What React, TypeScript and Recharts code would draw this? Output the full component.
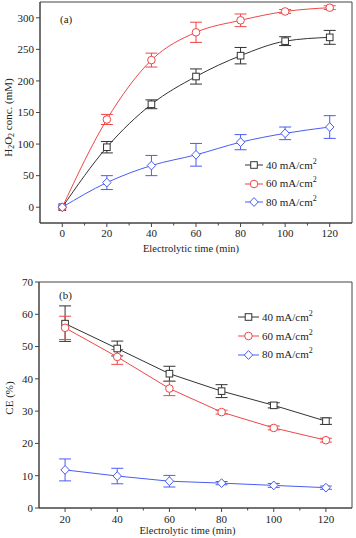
import React from "react";
import {
  ComposedChart,
  Line,
  XAxis,
  YAxis,
  ErrorBar,
  ReferenceArea,
  Legend,
  Customized,
} from "recharts";

// (a) H2O2 concentration vs time
const timesA = [0, 20, 40, 60, 80, 100, 120];
const conc40 = [0, 95, 163, 207, 240, 263, 269];
const conc40Err = [0, 9, 7, 12, 13, 7, 11];
const conc60 = [0, 139, 233, 277, 296, 310, 316];
const conc60Err = [0, 8, 11, 16, 10, 3, 3];
const conc80 = [0, 39, 66, 83, 103, 117, 127];
const conc80Err = [0, 11, 16, 18, 12, 10, 18];

// (b) current efficiency vs time
const timesB = [20, 40, 60, 80, 100, 120];
const ce40 = [57.1, 49.4, 41.6, 36.2, 31.8, 26.9];
const ce40Err = [5.5, 2.3, 2.3, 2.0, 0.8, 1.0];
const ce60 = [55.8, 46.8, 37.0, 29.7, 24.8, 21.0];
const ce60Err = [3.6, 2.3, 2.2, 0.6, 0.6, 0.6];
const ce80 = [11.8, 9.9, 8.3, 7.7, 7.0, 6.3];
const ce80Err = [3.4, 2.4, 1.8, 0.5, 0.6, 0.5];

const xMajorA = [0, 20, 40, 60, 80, 100, 120];
const xMinorA = [10, 30, 50, 70, 90, 110];
const yTicksA = [0, 50, 100, 150, 200, 250, 300];
const xMajorB = [20, 40, 60, 80, 100, 120];
const xMinorB = [30, 50, 70, 90, 110];
const yTicksB = [0, 10, 20, 30, 40, 50, 60, 70];

const seriesNames = ["40 mA/cm", "60 mA/cm", "80 mA/cm"];

const dataA = timesA.map((t, i) => ({
  t,
  c40: conc40[i],
  e40: conc40Err[i],
  c60: conc60[i],
  e60: conc60Err[i],
  c80: conc80[i],
  e80: conc80Err[i],
}));

const dataB = timesB.map((t, i) => ({
  t,
  c40: ce40[i],
  e40: ce40Err[i],
  c60: ce60[i],
  e60: ce60Err[i],
  c80: ce80[i],
  e80: ce80Err[i],
}));

const FONT = "Liberation Serif";
const fontStyle = { fontFamily: FONT };
const AXIS = "#444";
const BLACK = "#333";
const RED = "#f04646";
const BLUE = "#4a5cf4";
const colors = [BLACK, RED, BLUE];

const Marker = ({ kind, cx, cy, color }) => {
  if (kind === 0)
    return <rect x={cx - 3.3} y={cy - 3.3} width={6.6} height={6.6} fill="#fff" stroke={color} strokeWidth={1} />;
  if (kind === 1) return <circle cx={cx} cy={cy} r={3.8} fill="#fff" stroke={color} strokeWidth={1} />;
  return (
    <polygon
      points={`${cx},${cy - 4.4} ${cx + 4.2},${cy} ${cx},${cy + 4.4} ${cx - 4.2},${cy}`}
      fill="#fff"
      stroke={color}
      strokeWidth={1}
    />
  );
};

const dotFor = (kind) => (p) => (
  <Marker key={`d${kind}-${p.index}`} kind={kind} cx={p.cx} cy={p.cy} color={colors[kind]} />
);

const makeXTick = (majors, labelDy) => (p) => {
  const { x, y, payload } = p;
  const major = majors.includes(payload.value);
  return (
    <g>
      <line x1={x} x2={x} y1={y} y2={y + (major ? 4 : 2.5)} stroke={AXIS} />
      {major && (
        <text x={x} y={y + labelDy} textAnchor="middle" style={fontStyle} fontSize={11} fill="#222">
          {payload.value}
        </text>
      )}
    </g>
  );
};

const YTick = (p) => {
  const { x, y, payload } = p;
  return (
    <g>
      <line x1={x} x2={x - 4} y1={y} y2={y} stroke={AXIS} />
      <text x={x - 6} y={y + 3.8} textAnchor="end" style={fontStyle} fontSize={11} fill="#222">
        {payload.value}
      </text>
    </g>
  );
};

const LegendBox = ({ rowH, lineW }) => (
  <div style={{ fontFamily: FONT, fontSize: 11, color: "#222" }}>
    {seriesNames.map((n, i) => (
      <div key={n} style={{ display: "flex", alignItems: "center", height: rowH }}>
        <svg width={lineW} height={12}>
          <line x1={0} x2={lineW} y1={6} y2={6} stroke={colors[i]} />
          <Marker kind={i} cx={lineW / 2} cy={6} color={colors[i]} />
        </svg>
        <span style={{ marginLeft: 3, lineHeight: 1, whiteSpace: "nowrap" }}>
          {n}
          <span style={{ fontSize: 8, position: "relative", top: -5 }}>2</span>
        </span>
      </div>
    ))}
  </div>
);

const xTitle = (dx, dy) => (p) => {
  const vb = p.viewBox;
  return (
    <text x={vb.x + vb.width / 2 + dx} y={vb.y + dy} textAnchor="middle" style={fontStyle} fontSize={10.5} fill="#222">
      Electrolytic time (min)
    </text>
  );
};

const YTitleA = (p) => {
  const vb = p.viewBox;
  const x = 8;
  const y = vb.y + vb.height / 2 + 5;
  return (
    <text
      x={x}
      y={y}
      transform={`rotate(-90 ${x} ${y})`}
      textAnchor="middle"
      dominantBaseline="central"
      style={fontStyle}
      fontSize={11}
      fill="#222"
    >
      H<tspan fontSize={8} dy={3}>2</tspan>
      <tspan dy={-3}>O</tspan>
      <tspan fontSize={8} dy={3}>2</tspan>
      <tspan dy={-3}> conc. (mM)</tspan>
    </text>
  );
};

const YTitleB = (p) => {
  const vb = p.viewBox;
  const x = 9;
  const y = vb.y + vb.height / 2 + 3;
  return (
    <text
      x={x}
      y={y}
      transform={`rotate(-90 ${x} ${y})`}
      textAnchor="middle"
      dominantBaseline="central"
      style={fontStyle}
      fontSize={11}
      fill="#222"
    >
      CE (%)
    </text>
  );
};

const panelLabel = (label, x, y) => () => (
  <text x={x} y={y} style={fontStyle} fontSize={11} fill="#222">
    {label}
  </text>
);

const series = (curve) =>
  [0, 1, 2].map((k) => {
    const key = ["c40", "c60", "c80"][k];
    const err = ["e40", "e60", "e80"][k];
    return (
      <Line
        key={key}
        dataKey={key}
        type={curve}
        stroke={colors[k]}
        strokeWidth={1}
        dot={dotFor(k)}
        activeDot={false}
        isAnimationActive={false}
      >
        <ErrorBar dataKey={err} width={6} stroke={colors[k]} strokeWidth={1} direction="y" />
      </Line>
    );
  });

export default function App() {
  return (
    <div style={{ position: "absolute", left: 0, top: 0, width: 356, height: 538, background: "#fff", fontFamily: FONT }}>
      <div style={{ position: "absolute", left: 0, top: 0 }}>
        <ComposedChart width={356} height={262} data={dataA} margin={{ top: 2, right: 4, left: 0, bottom: 0 }}>
          <ReferenceArea x1={-10} x2={130} y1={-25} y2={325} fill="none" stroke={AXIS} ifOverflow="visible" />
          <XAxis
            dataKey="t"
            type="number"
            domain={[-10, 130]}
            ticks={[...xMajorA, ...xMinorA]}
            interval={0}
            height={39}
            tickSize={0}
            tickMargin={0}
            tickLine={false}
            axisLine={{ stroke: AXIS }}
            tick={makeXTick(xMajorA, 14)}
            label={{ content: xTitle(-5, 29) }}
          />
          <YAxis
            type="number"
            domain={[-25, 325]}
            ticks={yTicksA}
            interval={0}
            width={40}
            tickSize={0}
            tickMargin={0}
            tickLine={false}
            axisLine={{ stroke: AXIS }}
            tick={YTick}
            label={{ content: YTitleA }}
          />
          {series("monotone")}
          <Customized component={panelLabel("(a)", 60, 23)} />
          <Legend
            layout="vertical"
            align="center"
            verticalAlign="middle"
            wrapperStyle={{ left: 245, top: 156, width: 110 }}
            content={() => <LegendBox rowH={18.6} lineW={18} />}
          />
        </ComposedChart>
      </div>
      <div style={{ position: "absolute", left: 0, top: 270 }}>
        <ComposedChart width={356} height={268} data={dataB} margin={{ top: 12, right: 4, left: 0, bottom: 0 }}>
          <ReferenceArea x1={10} x2={130} y1={0} y2={70} fill="none" stroke={AXIS} ifOverflow="visible" />
          <XAxis
            dataKey="t"
            type="number"
            domain={[10, 130]}
            ticks={[...xMajorB, ...xMinorB]}
            interval={0}
            height={30}
            tickSize={0}
            tickMargin={0}
            tickLine={false}
            axisLine={{ stroke: AXIS }}
            tick={makeXTick(xMajorB, 15)}
            label={{ content: xTitle(-8, 26) }}
          />
          <YAxis
            type="number"
            domain={[0, 70]}
            ticks={yTicksB}
            interval={0}
            width={39}
            tickSize={0}
            tickMargin={0}
            tickLine={false}
            axisLine={{ stroke: AXIS }}
            tick={YTick}
            label={{ content: YTitleB }}
          />
          {series("linear")}
          <Customized component={panelLabel("(b)", 59, 29)} />
          <Legend
            layout="vertical"
            align="center"
            verticalAlign="middle"
            wrapperStyle={{ left: 238, top: 38, width: 116 }}
            content={() => <LegendBox rowH={18.8} lineW={21} />}
          />
        </ComposedChart>
      </div>
    </div>
  );
}
